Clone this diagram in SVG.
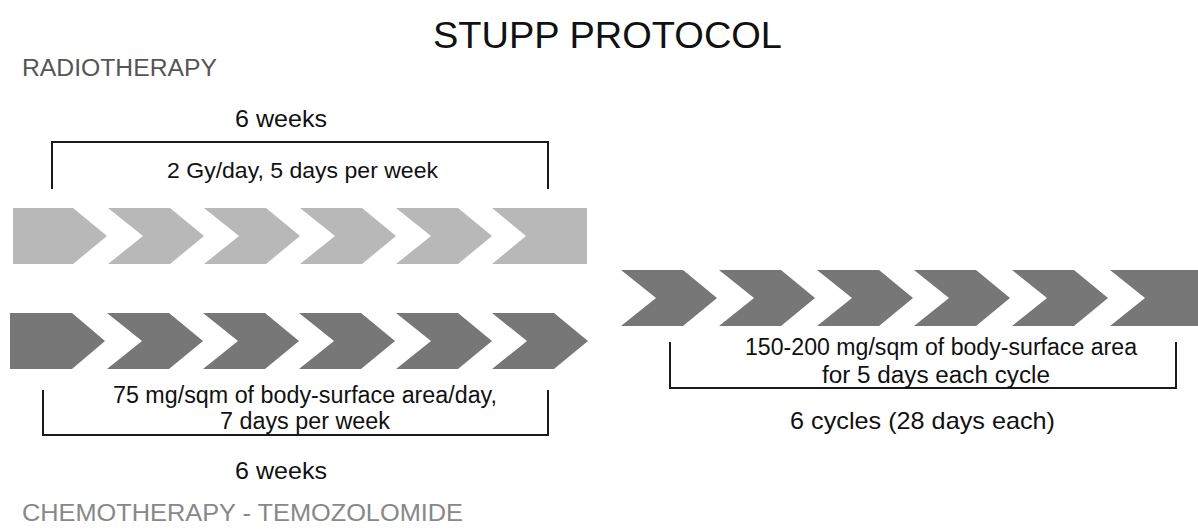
<svg xmlns="http://www.w3.org/2000/svg" width="1198" height="529" viewBox="0 0 1198 529">
  <style>
    text { font-family: "Liberation Sans", Arial, sans-serif; fill: #111; }
    .light { fill: #b8b8b8; }
    .dark { fill: #777777; }
    .br { fill: none; stroke: #1a1a1a; stroke-width: 2; }
  </style>
  <defs>
    <polygon id="chev" points="0,0 62,0 96,28 62,56 0,56 35,28"/>
  </defs>
  <rect width="1198" height="529" fill="#ffffff"/>

  <g id="title">
    <text x="433" y="48" font-size="37" textLength="349" lengthAdjust="spacingAndGlyphs">STUPP PROTOCOL</text>
  </g>

  <g id="radiotherapy-label">
    <text x="22" y="76" font-size="23" style="fill:#555" textLength="195" lengthAdjust="spacingAndGlyphs">RADIOTHERAPY</text>
  </g>

  <g id="radiotherapy-row" class="light">
    <polygon points="13,208 73,208 107,236 73,264 13,264"/>
    <use href="#chev" x="108" y="208"/>
    <use href="#chev" x="204" y="208"/>
    <use href="#chev" x="300" y="208"/>
    <use href="#chev" x="396" y="208"/>
    <polygon points="492,208 587,208 587,264 492,264 526,236"/>
  </g>

  <g id="chemo-row" class="dark">
    <polygon points="10,313 72,313 105,341 72,369 10,369"/>
    <use href="#chev" x="107" y="313"/>
    <use href="#chev" x="203" y="313"/>
    <use href="#chev" x="299" y="313"/>
    <use href="#chev" x="396" y="313"/>
    <use href="#chev" x="492" y="313"/>
  </g>

  <g id="maintenance-row" class="dark">
    <use href="#chev" x="621" y="270"/>
    <use href="#chev" x="719" y="270"/>
    <use href="#chev" x="817" y="270"/>
    <use href="#chev" x="914" y="270"/>
    <use href="#chev" x="1012" y="270"/>
    <polygon points="1110,270 1198,270 1198,326 1110,326 1145,298"/>
  </g>

  <g id="connectors">
    <path class="br" d="M52,189 V142 H548 V189"/>
    <path class="br" d="M43,390 V435 H548 V390"/>
    <path class="br" d="M670,342 V388 H1176 V342"/>
  </g>

  <g id="radiotherapy-bracket-labels">
    <text x="235" y="127" font-size="24" textLength="92" lengthAdjust="spacingAndGlyphs">6 weeks</text>
    <text x="167" y="178" font-size="22" textLength="271" lengthAdjust="spacingAndGlyphs">2 Gy/day, 5 days per week</text>
  </g>

  <g id="chemo-bracket-labels">
    <text x="113" y="403" font-size="23" textLength="384" lengthAdjust="spacingAndGlyphs">75 mg/sqm of body-surface area/day,</text>
    <text x="220" y="429" font-size="23" textLength="170" lengthAdjust="spacingAndGlyphs">7 days per week</text>
    <text x="235" y="479" font-size="24" textLength="92" lengthAdjust="spacingAndGlyphs">6 weeks</text>
  </g>

  <g id="maintenance-bracket-labels">
    <text x="745" y="355" font-size="23" textLength="392" lengthAdjust="spacingAndGlyphs">150-200 mg/sqm of body-surface area</text>
    <text x="822" y="383" font-size="23" textLength="228" lengthAdjust="spacingAndGlyphs">for 5 days each cycle</text>
    <text x="790" y="429" font-size="24" textLength="265" lengthAdjust="spacingAndGlyphs">6 cycles (28 days each)</text>
  </g>

  <g id="chemotherapy-label">
    <text x="22" y="521" font-size="24" style="fill:#888" textLength="441" lengthAdjust="spacingAndGlyphs">CHEMOTHERAPY - TEMOZOLOMIDE</text>
  </g>
</svg>
